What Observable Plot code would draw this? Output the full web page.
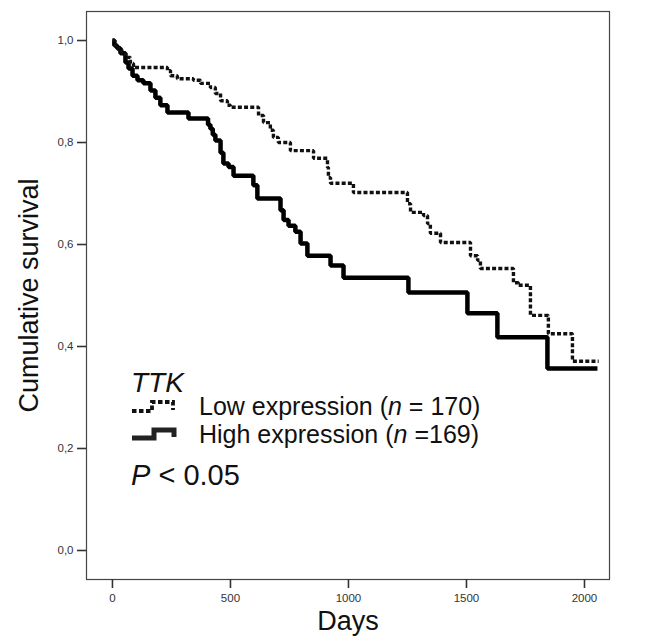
<!DOCTYPE html>
<html>
<head>
<meta charset="utf-8">
<script src="https://cdn.jsdelivr.net/npm/d3@7"></script>
<script src="https://cdn.jsdelivr.net/npm/@observablehq/plot@0.6"></script>
<style>
  html, body { margin: 0; padding: 0; background: #fff; }
  #wrap { position: relative; width: 657px; height: 641px; font-family: "Liberation Sans", Arial, Helvetica, sans-serif; }
  #legend { position: absolute; left: 131px; top: 370px; color: #111; }
  #legend .title { font-size: 28px; font-style: italic; line-height: 26px; height: 26px; }
  #legend .row { display: flex; align-items: center; font-size: 25px; height: 28px; }
  #legend .row.first { margin-top: -4px; }
  #legend .row svg { margin-right: 22px; }
  #legend .p { font-size: 29px; line-height: 32px; margin-top: 11px; }
</style>
</head>
<body>
<div id="wrap"></div>
<script>
// High expression (solid) step curve
const highDays = [0, 8, 20, 34, 55, 68, 85, 106, 131, 161, 182, 203, 233, 322, 405, 415, 425, 436, 458, 470, 492, 513, 597, 614, 712, 725, 746, 775, 797, 826, 924, 979, 1254, 1504, 1631, 1843, 2055];
const highSurv = [1, 0.99, 0.985, 0.975, 0.957, 0.945, 0.931, 0.922, 0.916, 0.902, 0.888, 0.873, 0.859, 0.847, 0.835, 0.827, 0.815, 0.804, 0.78, 0.759, 0.752, 0.735, 0.716, 0.69, 0.667, 0.648, 0.637, 0.625, 0.602, 0.578, 0.559, 0.535, 0.506, 0.465, 0.418, 0.357, 0.357];
// Low expression (dashed) step curve
const lowDays = [0, 10, 25, 40, 55, 76, 89, 233, 246, 275, 343, 373, 415, 436, 458, 487, 500, 619, 640, 669, 682, 703, 754, 852, 911, 915, 924, 1021, 1250, 1263, 1318, 1335, 1347, 1390, 1517, 1547, 1559, 1699, 1720, 1771, 1847, 1949, 2060];
const lowSurv = [1, 0.99, 0.982, 0.975, 0.967, 0.955, 0.947, 0.941, 0.931, 0.925, 0.922, 0.916, 0.908, 0.896, 0.882, 0.873, 0.869, 0.853, 0.839, 0.824, 0.81, 0.8, 0.784, 0.769, 0.751, 0.731, 0.72, 0.702, 0.68, 0.663, 0.657, 0.641, 0.622, 0.604, 0.578, 0.569, 0.553, 0.525, 0.52, 0.461, 0.425, 0.371, 0.371];

const xTicks = [0, 500, 1000, 1500, 2000];
const yTicks = [0, 0.2, 0.4, 0.6, 0.8, 1.0];
const legendTitle = "TTK";
const legendLow = ["Low expression (", "n", " = 170)"];
const legendHigh = ["High expression (", "n", " =169)"];
const pText = ["P", " < 0.05"];

const high = highDays.map((d, i) => ({day: d, s: highSurv[i]}));
const low = lowDays.map((d, i) => ({day: d, s: lowSurv[i]}));

const chart = Plot.plot({
  width: 657,
  height: 641,
  marginLeft: 86,
  marginRight: 48,
  marginTop: 11,
  marginBottom: 62,
  style: {fontFamily: '"Liberation Sans", Arial, Helvetica, sans-serif', background: "#fff"},
  x: {domain: [-110, 2106]},
  y: {domain: [-0.0569, 1.0569]},
  marks: [
    Plot.frame({stroke: "#444", strokeWidth: 1.2}),
    Plot.axisX({ticks: xTicks, tickSize: 9, tickPadding: 5, tickFormat: d => String(d), fontSize: 11.5, color: "#333", strokeWidth: 1.6, label: null}),
    Plot.axisY({ticks: yTicks, tickSize: 9, tickPadding: 4, tickFormat: d => d.toFixed(1).replace(".", ","), fontSize: 11.5, color: "#333", strokeWidth: 1.6, label: null}),
    Plot.line(high, {x: "day", y: "s", curve: "step-after", stroke: "#000", strokeWidth: 4.5, strokeLinejoin: "miter", strokeLinecap: "butt"}),
    Plot.line(low, {x: "day", y: "s", curve: "step-after", stroke: "#111", strokeWidth: 3.4, strokeDasharray: "4,2.2", strokeLinejoin: "miter", strokeLinecap: "butt"}),
    Plot.text(["Cumulative survival"], {frameAnchor: "left", textAnchor: "middle", dx: -57, rotate: -90, fontSize: 27, fill: "#111"}),
    Plot.text(["Days"], {frameAnchor: "bottom", textAnchor: "middle", dy: 50, fontSize: 27, fill: "#111"})
  ]
});

const wrap = document.getElementById("wrap");
wrap.appendChild(chart);

const legend = document.createElement("div");
legend.id = "legend";
legend.innerHTML = `
  <div class="title">${legendTitle}</div>
  <div class="row first"><svg width="46" height="16"><path d="M1,13 H21 V4 H42 V12" fill="none" stroke="#111" stroke-width="3.8" stroke-dasharray="4.5,2.5"/></svg><span>${legendLow[0]}<i>${legendLow[1]}</i>${legendLow[2]}</span></div>
  <div class="row"><svg width="46" height="16"><path d="M1,12 H23 V4 H43 V11" fill="none" stroke="#222" stroke-width="5"/></svg><span>${legendHigh[0]}<i>${legendHigh[1]}</i>${legendHigh[2]}</span></div>
  <div class="p"><i>${pText[0]}</i>${pText[1]}</div>
`;
wrap.appendChild(legend);
</script>
</body>
</html>
